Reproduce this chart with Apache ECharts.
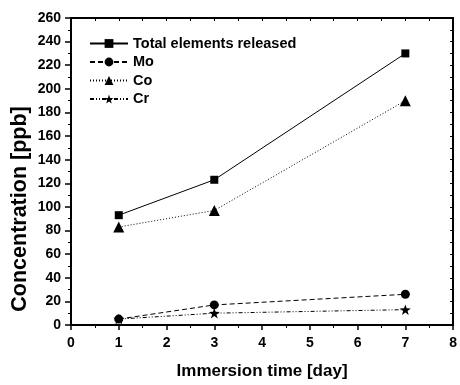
<!DOCTYPE html>
<html><head><meta charset="utf-8">
<script src="https://cdn.jsdelivr.net/npm/echarts@6/dist/echarts.min.js"></script>
<style>html,body{margin:0;padding:0;background:#fff}#c{width:460px;height:385px}</style>
</head><body><div id="c"></div>
<script>
const days = [1, 3, 7];
const totalReleased = [93, 123, 230];
const mo = [5, 17, 26];
const co = [83, 97, 190];
const cr = [5, 10, 13];
const seriesNames = ['Total elements released', 'Mo', 'Co', 'Cr'];
const xTitle = 'Immersion time [day]';
const yTitle = 'Concentration [ppb]';

const FONT = "'Liberation Sans', Arial, sans-serif";
const STAR = 'path://M0,-10L2.35,-3.24L9.51,-3.09L3.8,1.24L5.88,8.09L0,4L-5.88,8.09L-3.8,1.24L-9.51,-3.09L-2.35,-3.24Z';
const pairs = arr => days.map((d, i) => [d, arr[i]]);

const chart = echarts.init(document.getElementById('c'), null, {renderer: 'canvas'});
const axisLine = {show: true, onZero: false, lineStyle: {color: '#000', width: 2}};
chart.setOption({
  animation: false,
  grid: {left: 71, right: 2, top: 18, bottom: 52, containLabel: false},
  legend: {
    orient: 'vertical', left: 89, top: 36, padding: 0, itemWidth: 38, itemHeight: 11, itemGap: 3.5,
    textStyle: {fontFamily: FONT, fontWeight: 'bold', fontSize: 14.5, color: '#000'},
    data: seriesNames
  },
  xAxis: [{
    type: 'value', min: 0, max: 8, interval: 1,
    axisLine: axisLine,
    axisTick: {show: true, inside: false, length: 5, lineStyle: {color: '#000', width: 1.5}},
    minorTick: {show: true, splitNumber: 2, length: 3, lineStyle: {color: '#000', width: 1}},
    splitLine: {show: false},
    axisLabel: {margin: 11, fontFamily: FONT, fontWeight: 'bold', fontSize: 14, color: '#000'},
    name: xTitle, nameLocation: 'middle', nameGap: 38,
    nameTextStyle: {fontFamily: FONT, fontWeight: 'bold', fontSize: 17, color: '#000'}
  }, {
    type: 'value', position: 'top', min: 0, max: 8, interval: 1,
    axisLine: axisLine,
    axisTick: {show: true, inside: true, length: 3, lineStyle: {color: '#000', width: 1}},
    minorTick: {show: true, splitNumber: 2, length: 3, lineStyle: {color: '#000', width: 1}},
    splitLine: {show: false}, axisLabel: {show: false}
  }],
  yAxis: [{
    type: 'value', min: 0, max: 260, interval: 20,
    axisLine: axisLine,
    axisTick: {show: true, inside: false, length: 6, lineStyle: {color: '#000', width: 1.5}},
    minorTick: {show: true, splitNumber: 2, length: 3, lineStyle: {color: '#000', width: 1}},
    splitLine: {show: false},
    axisLabel: {margin: 10, fontFamily: FONT, fontWeight: 'bold', fontSize: 14, color: '#000'}
  }, {
    type: 'value', position: 'right', min: 0, max: 260, interval: 20,
    axisLine: axisLine,
    axisTick: {show: true, inside: true, length: 3, lineStyle: {color: '#000', width: 1}},
    minorTick: {show: true, splitNumber: 2, length: 3, lineStyle: {color: '#000', width: 1}},
    splitLine: {show: false}, axisLabel: {show: false}
  }],
  graphic: [{
    type: 'text', x: 20.5, y: 209, rotation: Math.PI / 2,
    style: {text: yTitle, fontFamily: FONT, fontWeight: 'bold', fontSize: 21.5, fill: '#000',
      align: 'center', verticalAlign: 'middle'}
  }],
  series: [
    {name: seriesNames[0], type: 'line', data: pairs(totalReleased), symbol: 'rect', symbolSize: 8,
      lineStyle: {color: '#000', width: 1, type: 'solid'}, itemStyle: {color: '#000'}},
    {name: seriesNames[1], type: 'line', data: pairs(mo), symbol: 'circle', symbolSize: 9,
      lineStyle: {color: '#000', width: 1, type: [5, 3]}, itemStyle: {color: '#000'}},
    {name: seriesNames[2], type: 'line', data: pairs(co), symbol: 'triangle', symbolSize: 11,
      lineStyle: {color: '#000', width: 1, type: [1, 2]}, itemStyle: {color: '#000'}},
    {name: seriesNames[3], type: 'line', data: pairs(cr), symbol: STAR, symbolSize: 11, symbolKeepAspect: true,
      lineStyle: {color: '#000', width: 1, type: [4, 2, 1, 2, 1, 2]}, itemStyle: {color: '#000'}}
  ]
});
</script></body></html>
